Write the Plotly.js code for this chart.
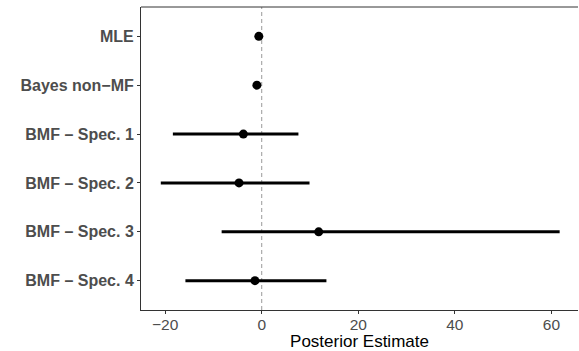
<!DOCTYPE html>
<html><head><meta charset="utf-8">
<script src="https://cdn.plot.ly/plotly-3.0.1.min.js"></script>
<style>html,body{margin:0;padding:0;background:#fff}</style>
</head><body><div id="chart" style="width:579px;height:351px"></div>
<script>
const categories = ["MLE","Bayes non\u2212MF","BMF \u2013 Spec. 1","BMF \u2013 Spec. 2","BMF \u2013 Spec. 3","BMF \u2013 Spec. 4"];
const estimate = [-0.6, -1.0, -3.8, -4.7, 11.8, -1.4];
const lower = [-0.6, -1.0, -18.4, -20.9, -8.3, -15.8];
const upper = [-0.6, -1.0, 7.6, 9.9, 61.7, 13.4];
const xTicks = [-20, 0, 20, 40, 60];

const trace = {
  type: 'scatter', mode: 'markers',
  x: estimate, y: categories,
  marker: {color: '#000', size: 9},
  error_x: {type: 'data', symmetric: false,
    array: upper.map((u,i)=>u-estimate[i]),
    arrayminus: estimate.map((e,i)=>e-lower[i]),
    color: '#000', thickness: 3, width: 0},
  hoverinfo: 'skip', cliponaxis: false
};
const layout = {
  width: 579, height: 351,
  margin: {l: 141, r: 1, t: 7, b: 41},
  paper_bgcolor: '#fff', plot_bgcolor: '#fff',
  showlegend: false,
  font: {family: 'Liberation Sans, Arial, sans-serif'},
  xaxis: {range: [-25, 65.5], tickvals: xTicks, ticktext: xTicks.map(v=>v<0?'\u2212'+Math.abs(v):String(v)),
    showgrid: false, zeroline: false, showline: true, linecolor: '#333', linewidth: 1,
    ticks: 'outside', ticklen: 3, tickcolor: '#333', tickfont: {size: 15.5, color: '#4d4d4d'},
    ticklabelstandoff: -3,
    title: {text: 'Posterior Estimate', font: {size: 17, color: '#000'}, standoff: 0}, mirror: false},
  yaxis: {type: 'category', categoryorder: 'array', categoryarray: categories,
    range: [5.6, -0.6], autorange: false,
    showgrid: false, zeroline: false, showline: true, linecolor: '#333', linewidth: 1,
    ticks: 'outside', ticklen: 3, tickcolor: '#333',
    tickfont: {size: 16, color: '#4d4d4d', weight: 'bold'}},
  shapes: [
    {type: 'line', xref: 'x', yref: 'paper', x0: 0, x1: 0, y0: 0, y1: 1,
     line: {color: '#999', width: 1, dash: '4px,3px'}, layer: 'below'},
    {type: 'line', xref: 'paper', yref: 'paper', x0: 0, x1: 1, y0: 1, y1: 1,
     line: {color: '#333', width: 1}}
  ]
};
Plotly.newPlot('chart', [trace], layout, {staticPlot: true});
</script></body></html>
